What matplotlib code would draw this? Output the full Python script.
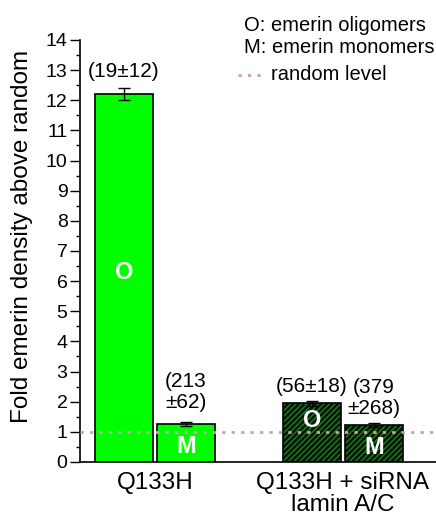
import matplotlib
matplotlib.use("Agg")
import matplotlib.pyplot as plt
from matplotlib.lines import Line2D

plt.rcParams['font.family'] = ['Liberation Sans', 'DejaVu Sans']

groups = ['Q133H', 'Q133H + siRNA\nlamin A/C']
oligo_fold = [12.2, 1.95]
oligo_err = [0.2, 0.08]
mono_fold = [1.25, 1.23]
mono_err = [0.07, 0.07]
oligo_counts = ['(19±12)', '(56±18)']
mono_counts = ['(213\n±62)', '(379\n±268)']
random_level = 1.0

fig = plt.figure(figsize=(4.36, 5.16), dpi=100)
ax = fig.add_axes([0.1835, 0.1047, 0.8165, 0.8178])

pos = [1.0, 2.0]
off = 0.165
w = 0.31
green = '#00ff00'

# plain bars (control)
ax.bar(pos[0] - off, oligo_fold[0], w, color=green, edgecolor='black', linewidth=1.2, zorder=2)
ax.bar(pos[0] + off, mono_fold[0], w, color=green, edgecolor='black', linewidth=1.2, zorder=2)

# hatched bars (siRNA)
for x, h in [(pos[1] - off, oligo_fold[1]), (pos[1] + off, mono_fold[1])]:
    ax.bar(x, h, w, color='#041404', edgecolor='#1c801c', hatch='//////', linewidth=0, zorder=2)
    ax.bar(x, h, w, fill=False, edgecolor='black', linewidth=1.2, zorder=3)

xo = [p - off for p in pos]
xm = [p + off for p in pos]
ax.errorbar(xo, oligo_fold, yerr=oligo_err, fmt='none', ecolor='black', elinewidth=1, capsize=4, zorder=4)
ax.errorbar(xm, mono_fold, yerr=mono_err, fmt='none', ecolor='black', elinewidth=1, capsize=4, zorder=4)

ax.axhline(random_level, color='#c8a6a6', linestyle=(0, (1.2, 2.2)), linewidth=2, zorder=5)

# letters inside bars
for x, y, s in [(xo[0], 6.3, 'O'), (xm[0], 0.5, 'M'), (xo[1], 1.36, 'O'), (xm[1], 0.47, 'M')]:
    ax.text(x, y, s, color='white', fontsize=17, fontweight='bold', ha='center', va='center', zorder=6)

# counts above bars
ax.text(xo[0], 12.95, oligo_counts[0], fontsize=15, ha='center', va='center')
ax.text(xo[1], 2.52, oligo_counts[1], fontsize=15, ha='center', va='center')
ax.text(xm[0], 2.32, mono_counts[0], fontsize=15, ha='center', va='center', linespacing=1.1)
ax.text(xm[1], 2.12, mono_counts[1], fontsize=15, ha='center', va='center', linespacing=1.1)

ax.set_xlim(0.601, 2.495)
ax.set_ylim(0, 14)
ax.set_yticks(range(0, 15))
ax.set_yticks([i + 0.5 for i in range(14)], minor=True)
ax.tick_params(axis='y', labelsize=14, length=7, width=1, pad=2)
ax.tick_params(axis='y', which='minor', length=3, width=1)
ax.set_xticks(pos)
ax.set_xticklabels(groups, fontsize=17.5, linespacing=1.0)
ax.tick_params(axis='x', length=0, pad=7)
for s in ['top', 'right']:
    ax.spines[s].set_visible(False)
ax.spines['left'].set_linewidth(1.2)
ax.spines['bottom'].set_linewidth(1.2)
fig.text(0.05, 0.541, 'Fold emerin density above random', fontsize=17.5,
         rotation=90, ha='center', va='center')

# key in the top right
fig.text(0.56, 0.951, 'O: emerin oligomers', fontsize=14.5, va='center')
fig.text(0.56, 0.907, 'M: emerin monomers', fontsize=14.5, va='center')
fig.add_artist(Line2D([0.546, 0.603], [0.855, 0.855], transform=fig.transFigure,
                      color='#c8a6a6', linestyle=(0, (1.2, 2.2)), linewidth=2))
fig.text(0.622, 0.855, 'random level', fontsize=14.5, va='center')

fig.savefig('out.png', dpi=100)
